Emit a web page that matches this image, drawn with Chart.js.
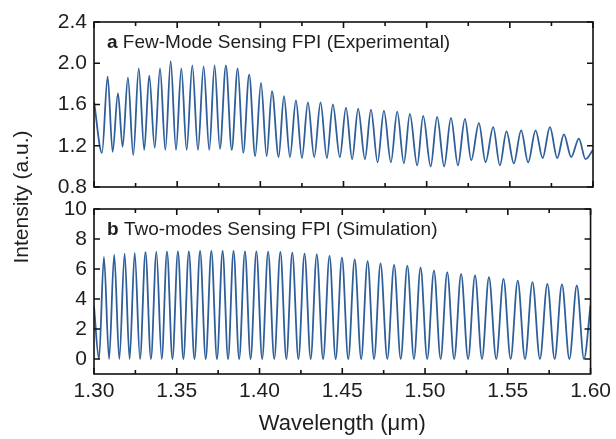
<!DOCTYPE html>
<html>
<head>
<meta charset="utf-8">
<script src="https://cdn.jsdelivr.net/npm/chart.js@4.4.1/dist/chart.umd.min.js"></script>
<style>
  body { margin: 0; background: #fff; }
  #wrap { position: relative; width: 616px; height: 439px; }
  canvas { position: absolute; left: 0; top: 0; }
</style>
</head>
<body>
<div id="wrap">
  <canvas id="chart1" width="616" height="439"></canvas>
  <canvas id="chart2" width="616" height="439"></canvas>
</div>
<script>
const expWavelength = [1.3000, 1.3048, 1.3082, 1.3112, 1.3144, 1.3172, 1.3204, 1.3236, 1.3269, 1.3302, 1.3332, 1.3365, 1.3397, 1.3429, 1.3461, 1.3493, 1.3525, 1.3557, 1.3591, 1.3625, 1.3659, 1.3693, 1.3725,
  1.3757, 1.3793, 1.3828, 1.3864, 1.3897, 1.3933, 1.3969, 1.4004, 1.4038, 1.4070, 1.4110, 1.4142, 1.4178, 1.4214, 1.4250, 1.4286, 1.4324, 1.4362, 1.4400, 1.4436,
  1.4478, 1.4515, 1.4552, 1.4588, 1.4629, 1.4665, 1.4705, 1.4743, 1.4785, 1.4823, 1.4863, 1.4899, 1.4943, 1.4979, 1.5024, 1.5063, 1.5105, 1.5146, 1.5188, 1.5230,
  1.5268, 1.5314, 1.5354, 1.5400, 1.5440, 1.5480, 1.5524, 1.5568, 1.5610, 1.5655, 1.5697, 1.5741, 1.5785, 1.5825, 1.5869, 1.5915, 1.5955, 1.6000];
const expIntensity = [1.63, 1.13, 1.87, 1.14, 1.71, 1.19, 1.86, 1.11, 1.95, 1.16, 1.88, 1.18, 1.95, 1.16, 2.02, 1.16, 1.95, 1.16, 1.98, 1.16, 1.97, 1.16, 1.98,
  1.17, 1.98, 1.16, 1.95, 1.13, 1.89, 1.10, 1.81, 1.10, 1.73, 1.09, 1.68, 1.09, 1.64, 1.08, 1.62, 1.09, 1.62, 1.08, 1.60,
  1.09, 1.57, 1.07, 1.56, 1.07, 1.55, 1.04, 1.54, 1.04, 1.53, 1.03, 1.51, 1.01, 1.49, 1.00, 1.48, 1.00, 1.47, 1.01, 1.46,
  1.06, 1.42, 1.04, 1.38, 1.01, 1.34, 1.03, 1.35, 1.04, 1.35, 1.08, 1.38, 1.08, 1.31, 1.09, 1.27, 1.07, 1.16];

// panel b: simulated two-mode fringes
const simWavelength = [1.3000, 1.3030, 1.3060, 1.3091, 1.3122, 1.3153, 1.3185, 1.3215, 1.3246, 1.3278, 1.3311, 1.3344, 1.3377, 1.3409, 1.3441, 1.3474, 1.3507, 1.3540, 1.3573, 1.3607, 1.3641,
  1.3675, 1.3709, 1.3743, 1.3777, 1.3810, 1.3843, 1.3877, 1.3912, 1.3946, 1.3981, 1.4016, 1.4052, 1.4089, 1.4126, 1.4162, 1.4198, 1.4235, 1.4272, 1.4309, 1.4346,
  1.4384, 1.4423, 1.4460, 1.4498, 1.4536, 1.4575, 1.4614, 1.4653, 1.4692, 1.4731, 1.4772, 1.4813, 1.4853, 1.4893, 1.4933, 1.4973, 1.5013, 1.5054, 1.5094, 1.5134,
  1.5176, 1.5218, 1.5260, 1.5302, 1.5344, 1.5386, 1.5430, 1.5474, 1.5517, 1.5560, 1.5604, 1.5649, 1.5694, 1.5739, 1.5783, 1.5827, 1.5872, 1.5917, 1.5960, 1.6000];
const simIntensity = [3.5, 0, 6.80, 0, 6.95, 0, 7.02, 0, 7.08, 0, 7.12, 0, 7.14, 0, 7.16, 0, 7.18, 0, 7.18, 0, 7.20,
  0, 7.20, 0, 7.20, 0, 7.20, 0, 7.18, 0, 7.18, 0, 7.16, 0, 7.14, 0, 7.09, 0, 7.02, 0, 6.98,
  0, 6.87, 0, 6.76, 0, 6.64, 0, 6.53, 0, 6.38, 0, 6.27, 0, 6.22, 0, 6.10, 0, 5.91, 0, 5.79,
  0, 5.68, 0, 5.57, 0, 5.45, 0, 5.34, 0, 5.23, 0, 5.12, 0, 5.01, 0, 4.97, 0, 4.90, 0, 3.6];

const xTicks = [1.30, 1.35, 1.40, 1.45, 1.50, 1.55, 1.60];
const xMinorTicks = [1.325, 1.375, 1.425, 1.475, 1.525, 1.575];
const expTicks = [0.8, 1.2, 1.6, 2.0, 2.4];
const simTicks = [0, 2, 4, 6, 8, 10];

const lineColor = "#2f5f9a";
const textColor = "#1e1e1e";
const fontFamily = "'Liberation Sans', Arial, sans-serif";

// frame + inward ticks on all four sides, panel tag, and shared y title
const frameTicks = {
  id: "frameTicks",
  afterDraw(chart, args, opts) {
    const { ctx, chartArea: a, scales } = chart;
    ctx.save();
    ctx.strokeStyle = "#111";
    ctx.lineWidth = 1.6;
    ctx.strokeRect(a.left, a.top, a.width, a.height);
    ctx.beginPath();
    xTicks.forEach((v) => {
      const px = scales.x.getPixelForValue(v);
      ctx.moveTo(px, a.bottom); ctx.lineTo(px, a.bottom - 6);
      ctx.moveTo(px, a.top); ctx.lineTo(px, a.top + 6);
    });
    xMinorTicks.forEach((v) => {
      const px = scales.x.getPixelForValue(v);
      ctx.moveTo(px, a.bottom); ctx.lineTo(px, a.bottom - 4);
      ctx.moveTo(px, a.top); ctx.lineTo(px, a.top + 4);
    });
    opts.yTicks.forEach((v) => {
      const py = scales.y.getPixelForValue(v);
      ctx.moveTo(a.left, py); ctx.lineTo(a.left + 6, py);
      ctx.moveTo(a.right, py); ctx.lineTo(a.right - 6, py);
    });
    ctx.stroke();

    // panel tag: bold letter then title
    ctx.fillStyle = textColor;
    ctx.textBaseline = "middle";
    ctx.textAlign = "left";
    ctx.font = "bold 19px " + fontFamily;
    ctx.fillText(opts.tag, a.left + 13, a.top + 21);
    const w = ctx.measureText(opts.tag + " ").width;
    ctx.font = "19px " + fontFamily;
    ctx.fillText(opts.label, a.left + 13 + w, a.top + 21);

    if (opts.yTitle) {
      ctx.translate(22, 197);
      ctx.rotate(-Math.PI / 2);
      ctx.textAlign = "center";
      ctx.font = "21px " + fontFamily;
      ctx.fillText(opts.yTitle, 0, 0);
    }
    ctx.restore();
  },
};

function toPoints(xs, ys) {
  return xs.map((x, i) => ({ x: x, y: ys[i] }));
}

function createPanel(ctx, xs, ys, yMin, yMax, yTicks, yDecimals, padding, showX, tagOpts) {
  return new Chart(ctx, {
    type: "line",
    data: {
      datasets: [
        {
          data: toPoints(xs, ys),
          borderColor: lineColor,
          borderWidth: 1.8,
          pointRadius: 0,
          fill: false,
          cubicInterpolationMode: "monotone",
        },
      ],
    },
    options: {
      responsive: false,
      animation: false,
      events: [],
      layout: { padding: padding },
      plugins: {
        legend: { display: false },
        tooltip: { enabled: false },
        frameTicks: tagOpts,
      },
      scales: {
        x: {
          type: "linear",
          min: 1.3,
          max: 1.6,
          display: showX,
          afterBuildTicks: (s) => { s.ticks = xTicks.map((v) => ({ value: v })); },
          afterFit: (s) => { s.height = showX ? 65 : 0; },
          grid: { display: false, drawTicks: false },
          border: { display: false },
          ticks: {
            padding: 5,
            color: textColor,
            font: { family: fontFamily, size: 21 },
            callback: (v) => v.toFixed(2),
            maxRotation: 0,
            autoSkip: false,
          },
          title: {
            display: true,
            text: "Wavelength (μm)",
            color: textColor,
            font: { family: fontFamily, size: 22 },
            padding: { top: 0, bottom: 2 },
          },
        },
        y: {
          min: yMin,
          max: yMax,
          afterBuildTicks: (s) => { s.ticks = yTicks.map((v) => ({ value: v })); },
          afterFit: (s) => { s.width = 94; },
          grid: { display: false, drawTicks: false },
          border: { display: false },
          ticks: {
            padding: 7,
            autoSkip: false,
            color: textColor,
            font: { family: fontFamily, size: 21 },
            callback: (v) => v.toFixed(yDecimals),
          },
        },
      },
    },
    plugins: [frameTicks],
  });
}

const expChart = createPanel(
  document.getElementById("chart1"), expWavelength, expIntensity,
  0.8, 2.4, expTicks, 1,
  { left: 0, right: 23, top: 22, bottom: 252 }, false,
  { yTicks: expTicks, tag: "a", label: "Few-Mode Sensing FPI (Experimental)" }
);

const simChart = createPanel(
  document.getElementById("chart2"), simWavelength, simIntensity,
  -1, 10, simTicks, 0,
  { left: 0, right: 23, top: 209, bottom: 0 }, true,
  { yTicks: simTicks, tag: "b", label: "Two-modes Sensing FPI (Simulation)", yTitle: "Intensity (a.u.)" }
);
</script>
</body>
</html>
